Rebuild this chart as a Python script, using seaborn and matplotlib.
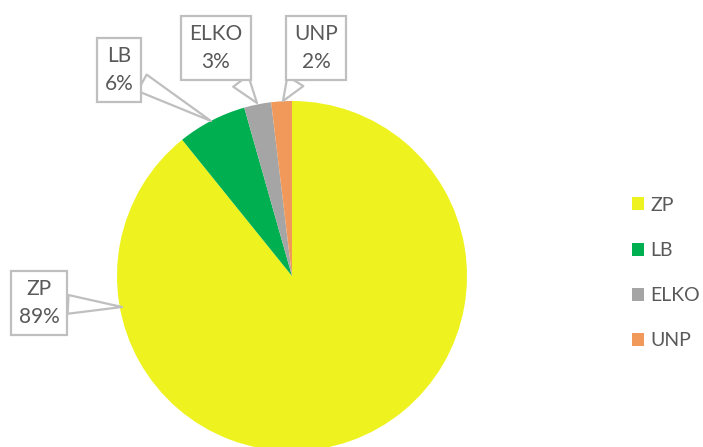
import matplotlib
matplotlib.use("Agg")
import matplotlib.pyplot as plt
import seaborn as sns

# ------------------------------------------------------------------
# data
# ------------------------------------------------------------------
parties = ["ZP", "LB", "ELKO", "UNP"]
shares = [89.2, 6.4, 2.5, 1.9]
pct_labels = ["89%", "6%", "3%", "2%"]
colors = ["#EEF31F", "#00B050", "#A5A5A5", "#F0995A"]

sns.set_theme(style="white")
plt.rcParams["font.family"] = ["Lato", "DejaVu Sans"]

text_color = "#595959"
box_color = "#BFBFBF"

# one axes over the whole canvas, 1 data unit = pie radius (175 px)
fig = plt.figure(figsize=(7.03, 4.47), dpi=100)
ax = fig.add_axes([0, 0, 1, 1])
R = 175.0
cx, cy = 292.0, 276.0

wedges, _ = ax.pie(
    shares,
    colors=colors,
    startangle=90,
    counterclock=False,
    radius=1.0,
    wedgeprops=dict(linewidth=0),
)

# pie() resets the limits, so set them afterwards
ax.set_xlim(-cx / R, (703 - cx) / R)
ax.set_ylim((cy - 447) / R, cy / R)
ax.set_aspect("equal")
ax.axis("off")

# callout label boxes (centre of box in pixel coords -> data coords)
def px(x, y):
    return ((x - cx) / R, (cy - y) / R)

box_centres = [(39, 303), (119, 70), (216, 48), (316, 48)]
tips = [(122, 307), (211, 121), (257, 103), (283, 101)]

for name, pct, bc, tp in zip(parties, pct_labels, box_centres, tips):
    ax.annotate(
        f"{name}\n{pct}",
        xy=px(*tp),
        xytext=px(*bc),
        ha="center",
        va="center",
        fontsize=15,
        color=text_color,
        linespacing=1.55,
        bbox=dict(boxstyle="square,pad=0.38", fc="white", ec=box_color, lw=1.6),
        arrowprops=dict(
            arrowstyle="wedge,tail_width=0.9,shrink_factor=0.5",
            fc="white",
            ec=box_color,
            lw=1.6,
            shrinkA=0,
            shrinkB=0,
        ),
        annotation_clip=False,
    )

leg = ax.legend(
    wedges,
    parties,
    loc="center left",
    bbox_to_anchor=(622 / 703, 1 - 273 / 447),
    frameon=False,
    fontsize=14,
    handlelength=0.65,
    handleheight=0.65,
    handletextpad=0.3,
    labelspacing=1.45,
    borderpad=0,
)
for t in leg.get_texts():
    t.set_color(text_color)

fig.savefig("out.png", dpi=100)
